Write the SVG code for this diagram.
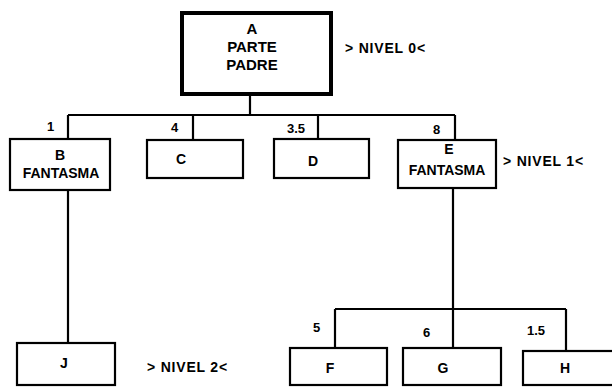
<svg xmlns="http://www.w3.org/2000/svg" width="612" height="387" viewBox="0 0 612 387">
<style>
.box{fill:#fff;stroke:#000;stroke-width:2.2}
.main{fill:#fff;stroke:#000;stroke-width:4}
.ln{fill:none;stroke:#000;stroke-width:2.2}
text{font-family:"Liberation Sans",Arial,sans-serif;font-weight:bold;font-size:13px;fill:#000}
.c{text-anchor:middle;font-size:14px}
.big{font-size:15px}
.lvl{font-size:14px;letter-spacing:0.8px}
</style>
<rect width="612" height="387" fill="#fff"/>
<g id="connectors">
<path class="ln" d="M250 94V115M68 115H455M68 115V139M193 115V140M318 115V139M455 115V140"/>
<path class="ln" d="M68 190V343"/>
<path class="ln" d="M453 188V309M335 309H566M335 309V348M453 309V348M566 309V351"/>
</g>
<g id="A">
<rect class="main" x="182" y="13" width="149" height="81"/>
<text class="c big" x="252" y="34">A</text>
<text class="c big" x="252" y="52">PARTE</text>
<text class="c big" x="252" y="70">PADRE</text>
</g>
<g id="B">
<rect class="box" x="10" y="139" width="100" height="51"/>
<text class="c" x="60" y="160">B</text>
<text class="c" x="61" y="178">FANTASMA</text>
<text x="47" y="131">1</text>
</g>
<g id="C">
<rect class="box" x="147" y="140" width="96" height="38"/>
<text class="c" x="181" y="164">C</text>
<text x="171" y="132">4</text>
</g>
<g id="D">
<rect class="box" x="274" y="139" width="95" height="39"/>
<text class="c" x="313" y="166">D</text>
<text x="287" y="133">3.5</text>
</g>
<g id="E">
<rect class="box" x="398" y="140" width="98" height="48"/>
<text class="c" x="449" y="154">E</text>
<text class="c" x="447" y="175">FANTASMA</text>
<text x="433" y="134">8</text>
</g>
<g id="J">
<rect class="box" x="17" y="343" width="98" height="42"/>
<text class="c" x="64" y="368">J</text>
</g>
<g id="F">
<rect class="box" x="290" y="348" width="97" height="37"/>
<text class="c" x="330" y="373">F</text>
<text x="313" y="332">5</text>
</g>
<g id="G">
<rect class="box" x="403" y="348" width="98" height="37"/>
<text class="c" x="443" y="373">G</text>
<text x="423" y="337">6</text>
</g>
<g id="H">
<rect class="box" x="523" y="351" width="100" height="34"/>
<text class="c" x="565" y="373">H</text>
<text x="527" y="335">1.5</text>
</g>
<g id="levels">
<text class="lvl" x="345" y="53">&gt; NIVEL 0&lt;</text>
<text class="lvl" x="503" y="166">&gt; NIVEL 1&lt;</text>
<text class="lvl" x="147" y="372">&gt; NIVEL 2&lt;</text>
</g>
</svg>
